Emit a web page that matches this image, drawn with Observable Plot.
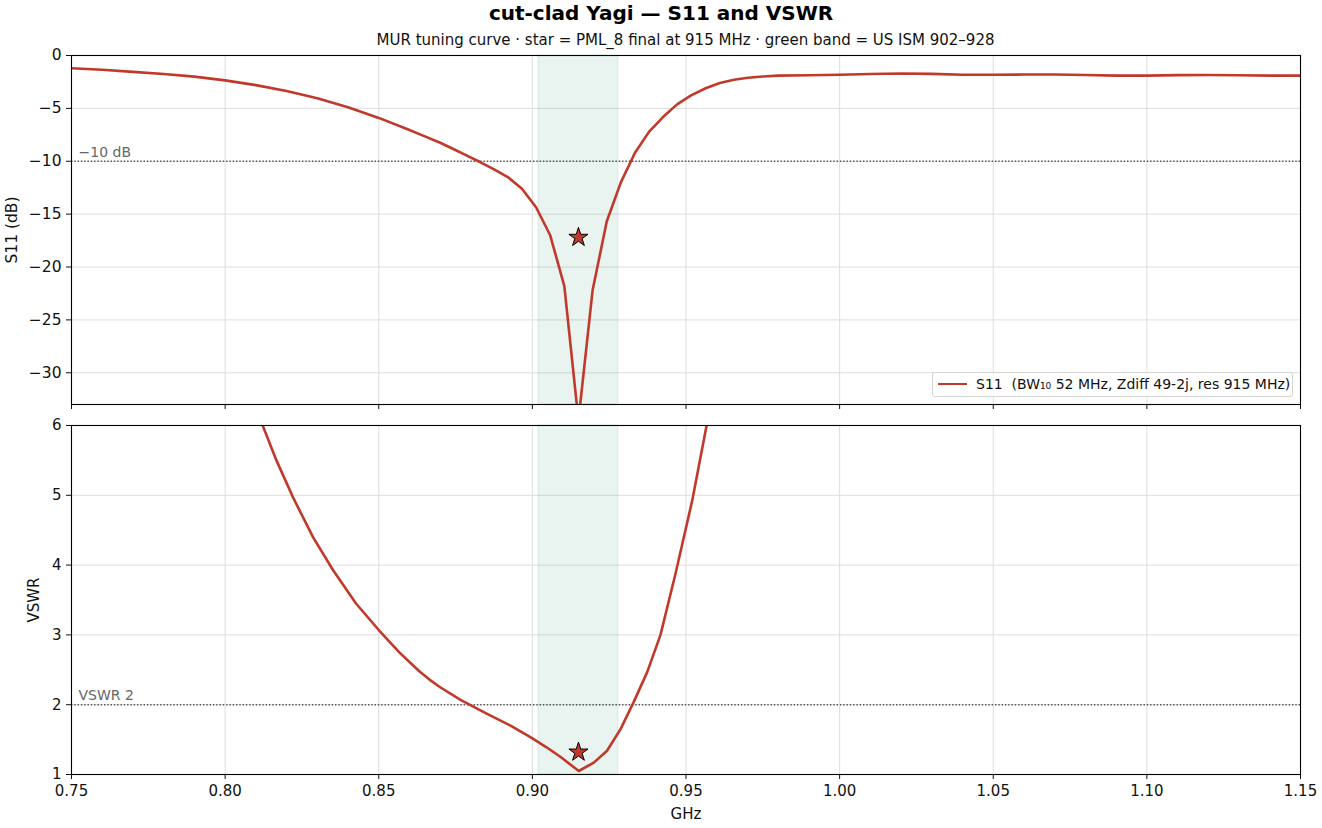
<!DOCTYPE html>
<html>
<head>
<meta charset="utf-8">
<script src="https://cdn.jsdelivr.net/npm/d3@7"></script>
<script src="https://cdn.jsdelivr.net/npm/@observablehq/plot@0.6"></script>
<style>
  body { margin: 0; background: #fff; font-family: "DejaVu Sans", sans-serif; }
  #fig { position: relative; width: 1322px; height: 828px; overflow: hidden; background: #fff; }
  #header { position: relative; width: 1322px; height: 47px; }
  #title { position: absolute; left: 0; width: 1322px; top: 1px; text-align: center; font-weight: bold; font-size: 20px; line-height: 24px; color: #000; }
  #subtitle { position: absolute; left: 71px; width: 1229px; top: 30px; text-align: center; font-size: 15px; line-height: 20px; color: #111; }
  #legend { position: absolute; left: 932px; top: 372px; width: 359px; height: 23px; border: 1px solid #d4d4d4; border-radius: 3px; background: rgba(255,255,255,0.85); font-size: 14px; line-height: 23px; color: #111; white-space: nowrap; }
  #legend .sw { display: inline-block; width: 29px; height: 2.6px; background: #c0392b; vertical-align: middle; margin: 0 9px 2px 5px; }
  svg { display: block; }
</style>
</head>
<body>
<div id="fig">
  <div id="header">
    <div id="title">cut-clad Yagi — S11 and VSWR</div>
    <div id="subtitle">MUR tuning curve · star = PML_8 final at 915 MHz · green band = US ISM 902–928</div>
  </div>
  <div id="top"></div>
  <div id="bottom"></div>
  <div id="legend"><span class="sw"></span>S11&nbsp;&nbsp;(BW₁₀ 52 MHz, Zdiff 49-2j, res 915 MHz)</div>
</div>
<script>
// ---- data ----
const xDomain = [0.75, 1.15];
const xTicks = [0.75, 0.80, 0.85, 0.90, 0.95, 1.00, 1.05, 1.10, 1.15];
const s11Domain = [-33, 0];
const s11Ticks = [0, -5, -10, -15, -20, -25, -30];
const vswrDomain = [1, 6];
const vswrTicks = [1, 2, 3, 4, 5, 6];

const ismBand = [0.902, 0.928];
const s11Threshold = -10;
const vswrThreshold = 2;

const starFreq = 0.915;
const starS11 = -17.2;
const starVSWR = 1.32;

const s11Freq = [0.75,0.76,0.77,0.78,0.79,0.80,0.81,0.82,0.83,0.84,0.85,0.86,0.865,0.87,0.8736,0.8782,0.8828,0.8874,0.8920,0.8966,0.9012,0.9058,0.9104,0.9150,0.9196,0.9242,0.9288,0.9334,0.9380,0.9426,0.9472,0.9518,0.9564,0.9610,0.9656,0.9702,0.975,0.980,0.990,1.000,1.010,1.020,1.030,1.040,1.050,1.060,1.070,1.080,1.090,1.100,1.110,1.120,1.130,1.140,1.150];
const s11Values = [-1.2,-1.35,-1.55,-1.75,-2.0,-2.35,-2.8,-3.35,-4.05,-4.9,-5.9,-7.05,-7.65,-8.25,-8.75,-9.4,-10.05,-10.75,-11.5,-12.6,-14.35,-17.0,-21.8,-34.5,-22.2,-15.7,-12.0,-9.2,-7.2,-5.8,-4.6,-3.75,-3.1,-2.6,-2.3,-2.1,-1.98,-1.9,-1.87,-1.82,-1.75,-1.7,-1.74,-1.82,-1.82,-1.8,-1.8,-1.85,-1.9,-1.9,-1.86,-1.84,-1.87,-1.9,-1.9];

const vswrFreq = [0.810,0.8167,0.8221,0.8286,0.8351,0.8426,0.850,0.8567,0.8632,0.8665,0.870,0.8766,0.8848,0.8929,0.8999,0.9046,0.9092,0.9151,0.9200,0.9243,0.9287,0.9330,0.9374,0.9417,0.9466,0.9520,0.9567,0.9600];
const vswrValues = [6.25,5.5,4.97,4.40,3.93,3.45,3.07,2.75,2.48,2.36,2.25,2.07,1.88,1.70,1.52,1.39,1.25,1.05,1.17,1.34,1.65,2.04,2.47,3.0,3.88,4.92,6.0,6.8];

const lineColor = "#c0392b";
const gridColor = "#dedede";
const bandColor = "#2a8c6a";

const baseStyle = { fontFamily: "DejaVu Sans", fontSize: "14.5px", color: "#111", background: "white", overflow: "visible" };

function commonMarks(yTicks) {
  return [
    Plot.gridX(xTicks, { stroke: gridColor, strokeOpacity: 1, strokeWidth: 1 }),
    Plot.gridY(yTicks, { stroke: gridColor, strokeOpacity: 1, strokeWidth: 1 }),
    Plot.rect([0], { x1: ismBand[0], x2: ismBand[1], fill: bandColor, fillOpacity: 0.1, stroke: bandColor, strokeOpacity: 0.12, strokeWidth: 1 })
  ];
}

const topPlot = Plot.plot({
  width: 1322, height: 373,
  marginTop: 8, marginBottom: 16, marginLeft: 71, marginRight: 22,
  style: baseStyle,
  x: { domain: xDomain },
  y: { domain: s11Domain },
  marks: [
    ...commonMarks(s11Ticks),
    Plot.ruleY([s11Threshold], { stroke: "#555", strokeWidth: 1.5, strokeDasharray: "1.4,1.9" }),
    Plot.text(["−10 dB"], { frameAnchor: "left", y: [s11Threshold], dx: 7, dy: -9, textAnchor: "start", fill: "#666", fontSize: 14 }),
    Plot.line(s11Freq, { x: s11Freq, y: s11Values, stroke: lineColor, strokeWidth: 2.6, clip: true }),
    Plot.dot([0], { x: [starFreq], y: [starS11], symbol: "star", r: 6, fill: lineColor, stroke: "black", strokeWidth: 1 }),
    Plot.frame({ stroke: "black", strokeWidth: 1.1 }),
    Plot.axisX(xTicks, { anchor: "bottom", tickSize: 5, tickFormat: () => "", label: null }),
    Plot.axisY(s11Ticks, { anchor: "left", tickSize: 5, tickPadding: 5, tickFormat: d3.format("d"), label: "S11 (dB)", labelAnchor: "center", labelArrow: "none", labelOffset: 66, fontSize: 15.5 })
  ]
});

const bottomPlot = Plot.plot({
  width: 1322, height: 408,
  marginTop: 5, marginBottom: 54, marginLeft: 71, marginRight: 22,
  style: baseStyle,
  x: { domain: xDomain },
  y: { domain: vswrDomain },
  marks: [
    ...commonMarks(vswrTicks),
    Plot.ruleY([vswrThreshold], { stroke: "#555", strokeWidth: 1.5, strokeDasharray: "1.4,1.9" }),
    Plot.text(["VSWR 2"], { frameAnchor: "left", y: [vswrThreshold], dx: 7, dy: -9, textAnchor: "start", fill: "#666", fontSize: 14 }),
    Plot.line(vswrFreq, { x: vswrFreq, y: vswrValues, stroke: lineColor, strokeWidth: 2.6, clip: true }),
    Plot.dot([0], { x: [starFreq], y: [starVSWR], symbol: "star", r: 6, fill: lineColor, stroke: "black", strokeWidth: 1 }),
    Plot.frame({ stroke: "black", strokeWidth: 1.1 }),
    Plot.axisX(xTicks, { anchor: "bottom", tickSize: 5, tickPadding: 6, tickFormat: d3.format(".2f"), label: "GHz", labelAnchor: "center", labelArrow: "none", labelOffset: 44, fontSize: 15 }),
    Plot.axisY(vswrTicks, { anchor: "left", tickSize: 5, tickPadding: 5, tickFormat: d3.format("d"), label: "VSWR", labelAnchor: "center", labelArrow: "none", labelOffset: 43, fontSize: 15 })
  ]
});

document.getElementById("top").appendChild(topPlot);
document.getElementById("bottom").appendChild(bottomPlot);
</script>
</body>
</html>
